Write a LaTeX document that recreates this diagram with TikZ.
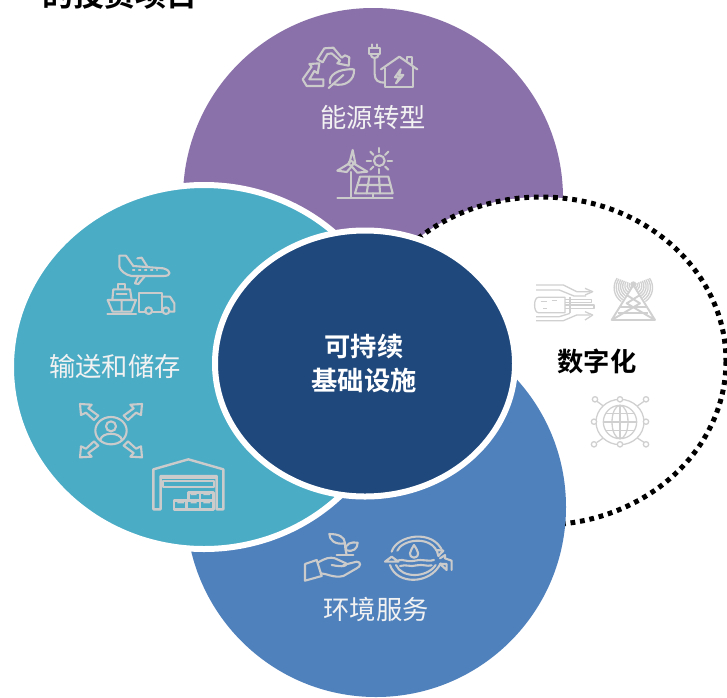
\documentclass[tikz,border=0pt]{standalone}
\usepackage{fontspec}
\setmainfont{Noto Sans CJK SC}
\newfontfamily\cjkbold{Noto Sans CJK SC Bold}
\definecolor{purplec}{HTML}{8B71A9}
\definecolor{tealc}{HTML}{4BACC6}
\definecolor{bluec}{HTML}{4F81BD}
\definecolor{darkc}{HTML}{1F497D}
\definecolor{iconc}{HTML}{CBCBCB}
\definecolor{labelc}{HTML}{F2F2F2}
\tikzset{
 icon/.style={draw=iconc,line width=2.1pt,line join=round,line cap=round,fill=none},
 thinicon/.style={draw=iconc!90!white,line width=1.3pt,line join=round,fill=none},
 whitelabel/.style={text=labelc,font=\fontsize{26.3}{28}\selectfont,inner sep=0pt},
 boldlabel/.style={text=white,font=\cjkbold\fontsize{26.3}{34}\selectfont,inner sep=0pt,align=center},
 blacklabel/.style={text=black,font=\cjkbold\fontsize{26.3}{28}\selectfont,inner sep=0pt},
}
\begin{document}
\begin{tikzpicture}[x=1pt,y=-1pt]
\clip (0,0) rectangle (727,697);
\fill[white] (0,0) rectangle (727,697);
% circles
\fill[purplec] (373,198) circle (190);
\draw[fill=white,line width=5pt,dash pattern=on 4.8pt off 4.8pt] (541,361) ellipse [x radius=185,y radius=164];
\fill[bluec] (376,507) circle (190);
\draw[white,line width=6pt,fill=tealc] (204,367) ellipse [x radius=193,y radius=182];
\draw[white,line width=6pt,fill=darkc] (365,363.5) ellipse [x radius=150,y radius=133];
% labels
\node[font=\cjkbold\fontsize{31}{33}\selectfont,text=black,inner sep=0pt] (title) at (120,-5) {的投资项目};
\node[whitelabel] (energy) at (373,117) {能源转型};
\node[whitelabel] (storage) at (115,366) {输送和储存};
\node[whitelabel] (env) at (376,609) {环境服务};
\node[blacklabel] (digital) at (597,361) {数字化};
\node[boldlabel] (core) at (364,364) {可持续\\基础设施};
% energy icons
\begin{scope}[shift={(280,0)},scale=1/3]
 \draw[icon] (112,178)--(133,145)--(160,143)--(185,173)--(195,166)--(208,172)--(206,197)--(172,190)--(180,182)--(155,160)--(142,162)--(128,187)--cycle;
 \draw[icon] (130,238)--(88,238)--(103,213)--(113,220)--(118,190)--(88,192)--(95,200)--(68,238)--(80,258)--(130,258)--cycle;
 \draw[icon] (146,264)--(190,225);
 \draw[icon] (150,250) .. controls (145,225) and (175,205) .. (222,208) .. controls (225,240) and (195,262) .. (160,252);
 \draw[icon] (268,143) rectangle (300,162);
 \draw[icon] (276,143)--(276,133) (292,143)--(292,133);
 \draw[icon] (272,162) .. controls (272,178) and (296,178) .. (296,162);
 \draw[icon] (284,175)--(284,222) .. controls (284,242) and (296,248) .. (314,248);
 \draw[icon] (303,208)--(358,170)--(412,208);
 \draw[icon] (315,205)--(315,262)--(400,262)--(400,200);
 \draw[icon] (380,180)--(380,172)--(396,172)--(396,192);
 \draw[icon] (362,208)--(345,232)--(358,232)--(348,250)--(370,225)--(357,225)--cycle;
 % turbine
 \draw[icon] (208,490)--(218,450)--(226,490);
 \draw[icon] (213,490) circle (7);
 \draw[icon] (208,490)--(172,512)--(200,516)--(216,498);
 \draw[icon] (220,490)--(262,515)--(232,518)--(214,498);
 \draw[icon] (213,516)--(213,593);
 \draw[icon] (298,482) circle (16);
 \foreach \a in {0,45,...,315}{\draw[icon] (298,482)+(\a:25)--+(\a:38);}
 \draw[icon] (240,530)--(325,530)--(338,580)--(225,580)--cycle;
 \draw[icon] (232,555)--(332,555) (268,530)--(260,580) (297,530)--(300,580);
 \draw[icon] (172,593)--(338,593) (280,580)--(280,593);
\end{scope}
% transport icons
\begin{scope}[shift={(60,240)},scale=1/3]
 \draw[icon] (178,47)--(198,47)--(220,78)--(310,85) .. controls (335,92) and (335,108) .. (310,108)--(215,108) .. controls (195,105) and (180,90) .. (178,80)--cycle;
 \draw[icon] (232,55)--(245,53)--(262,80);
 \draw[icon] (255,108)--(235,132)--(225,130)--(235,108);
 \draw[icon,line width=1.2pt,dash pattern=on 2pt off 4pt] (218,90)--(292,90);
 \draw[icon] (143,180)--(228,180)--(214,215)--(158,215)--cycle (185,180)--(185,215);
 \draw[icon] (157,180)--(160,148)--(210,148)--(215,180);
 \draw[icon] (175,148)--(175,132)--(195,132)--(195,148) (170,162)--(200,162);
 \draw[icon] (142,222)--(228,222);
 \draw[icon] (254,215)--(238,215)--(238,160)--(305,160)--(305,215)--(278,215);
 \draw[icon] (305,170)--(330,170)--(343,190)--(343,215)--(330,215) (305,215)--(307,215);
 \draw[icon] (266,212) circle (10) (318,212) circle (10);
 % person and arrows
 \draw[icon] (153,572) ellipse [x radius=47,y radius=41];
 \draw[icon] (153,559) circle (15);
 \draw[icon] (121,600) .. controls (125,575) and (181,575) .. (186,600);
 \foreach \sx/\sy in {1/1,-1/1,1/-1,-1/-1}{
 \begin{scope}[shift={(153,572)},xscale=\sx,yscale=\sy]
  \draw[icon] (-93,-80)--(-58,-78)--(-68,-67)--(-38,-45)--(-51,-32)--(-75,-54)--(-90,-47)--cycle;
 \end{scope}}
 % warehouse
 \draw[icon,line width=2.4pt] (280,808)--(280,688)--(385,658)--(490,688)--(490,808)--(470,808)--(470,708)--(302,708)--(302,808)--cycle;
 \draw[icon] (302,715)--(470,715) (308,722)--(462,722)--(462,740)--(308,740)--cycle;
 \draw[icon,line width=2.4pt] (342,782) rectangle (380,808) (380,782) rectangle (420,808) (420,782) rectangle (460,808) (385,757) rectangle (420,782) (420,757) rectangle (460,782);
 \fill[iconc] (352,782) rectangle (372,790) (392,782) rectangle (410,790) (430,782) rectangle (450,790) (392,757) rectangle (410,765) (430,757) rectangle (450,765);
\end{scope}
% digital icons
\begin{scope}[shift={(520,260)},scale=1/3]
 \draw[thinicon] (48,75)--(130,75)--(170,95)--(210,95);
 \draw[thinicon] (48,90)--(118,90)--(162,108)--(198,108);
 \draw[thinicon] (195,85)--(218,95)--(195,105);
 \draw[thinicon] (55,112)--(135,112)--(135,158)--(55,158) .. controls (40,158) and (40,112) .. (55,112);
 \draw[thinicon] (135,118)--(215,118)--(215,128)--(135,128) (135,135)--(222,135)--(222,145)--(135,145) (150,112)--(150,158);
 \draw[thinicon] (48,182)--(130,182)--(170,165)--(210,165);
 \draw[thinicon] (48,170)--(118,170)--(150,160);
 \draw[thinicon] (195,155)--(218,165)--(195,180);
 \draw[thinicon] (62,125)--(80,125) (95,122)--(112,122) (70,145)--(82,145);
 % tower
 \draw[thinicon,line width=1.9pt] (340,75)--(275,180)--(360,130)--(320,105) (340,75)--(405,180)--(320,130)--(360,105);
 \draw[thinicon,line width=1.9pt] (275,180)--(405,180) (300,140)--(380,140) (295,160)--(385,160);
 \draw[thinicon,fill=iconc!90!white] (340,73) circle (7);
 \foreach \r in {14,21,28,35,42,49,56,63}{
  \draw[thinicon] (340,73)++(125:\r) arc (125:215:\r*.8);
  \draw[thinicon] (340,73)++(55:\r) arc (55:-35:\r*.8);
 }
 % globe
 \draw[thinicon] (300,486) circle (50);
 \draw[thinicon] (300,486) ellipse [x radius=24,y radius=50];
 \draw[thinicon] (250,486)--(350,486) (300,436)--(300,536) (258,460)--(342,460) (258,512)--(342,512);
 \draw[thinicon] (300,486) ellipse [x radius=72,y radius=68];
 \foreach \px/\py in {225/418,300/418,378/418,222/485,378/485,222/553,300/553,378/553}{
  \draw[thinicon,fill=white] (\px,\py) circle (8);
 }
 \draw[thinicon] (231,424)--(250,438) (372,424)--(352,438) (231,547)--(250,534) (372,547)--(352,534);
\end{scope}
% environment icons
\begin{scope}[shift={(290,520)},scale=1/3]
 \draw[icon] (45,132)--(80,120)--(95,168)--(45,182)--cycle;
 \draw[icon] (85,127) .. controls (105,115) and (120,110) .. (135,115)--(168,130) .. controls (172,138) and (160,142) .. (125,135);
 \draw[icon] (160,135)--(200,125) .. controls (215,125) and (212,140) .. (200,145)--(160,168) .. controls (130,175) and (110,160) .. (92,160);
 \draw[icon] (170,105) .. controls (165,85) and (165,75) .. (165,68);
 \draw[icon] (165,70) .. controls (135,75) and (118,60) .. (118,42) .. controls (145,42) and (165,50) .. (165,70);
 \draw[icon] (168,90) .. controls (165,70) and (185,65) .. (203,68) .. controls (203,85) and (190,98) .. (168,90);
 \draw[icon] (140,105)--(190,105);
 % water
 \draw[icon] (305,95) .. controls (320,45) and (430,25) .. (458,95);
 \draw[icon] (322,92) .. controls (335,60) and (415,45) .. (440,92);
 \draw[icon] (300,135) .. controls (320,195) and (420,195) .. (452,130);
 \draw[icon] (318,135) .. controls (335,175) and (410,175) .. (437,135);
 \draw[icon] (285,125)--(305,110)--(325,125)--cycle;
 \draw[icon] (440,90)--(460,92)--(445,108)--cycle;
 \draw[icon] (372,75) .. controls (385,95) and (392,108) .. (372,113) .. controls (352,108) and (360,95) .. (372,75);
 \draw[icon] (323,122) .. controls (345,115) and (345,128) .. (375,122) .. controls (400,116) and (410,126) .. (432,120);
 \draw[icon] (330,138) .. controls (350,132) and (360,142) .. (380,136) .. controls (400,132) and (410,140) .. (425,136);
 \draw[icon] (450,115)--(465,105)--(465,115)--(485,122)--(485,150) (470,150)--(470,132)--(450,132)--cycle;
\end{scope}
\end{tikzpicture}
\end{document}
